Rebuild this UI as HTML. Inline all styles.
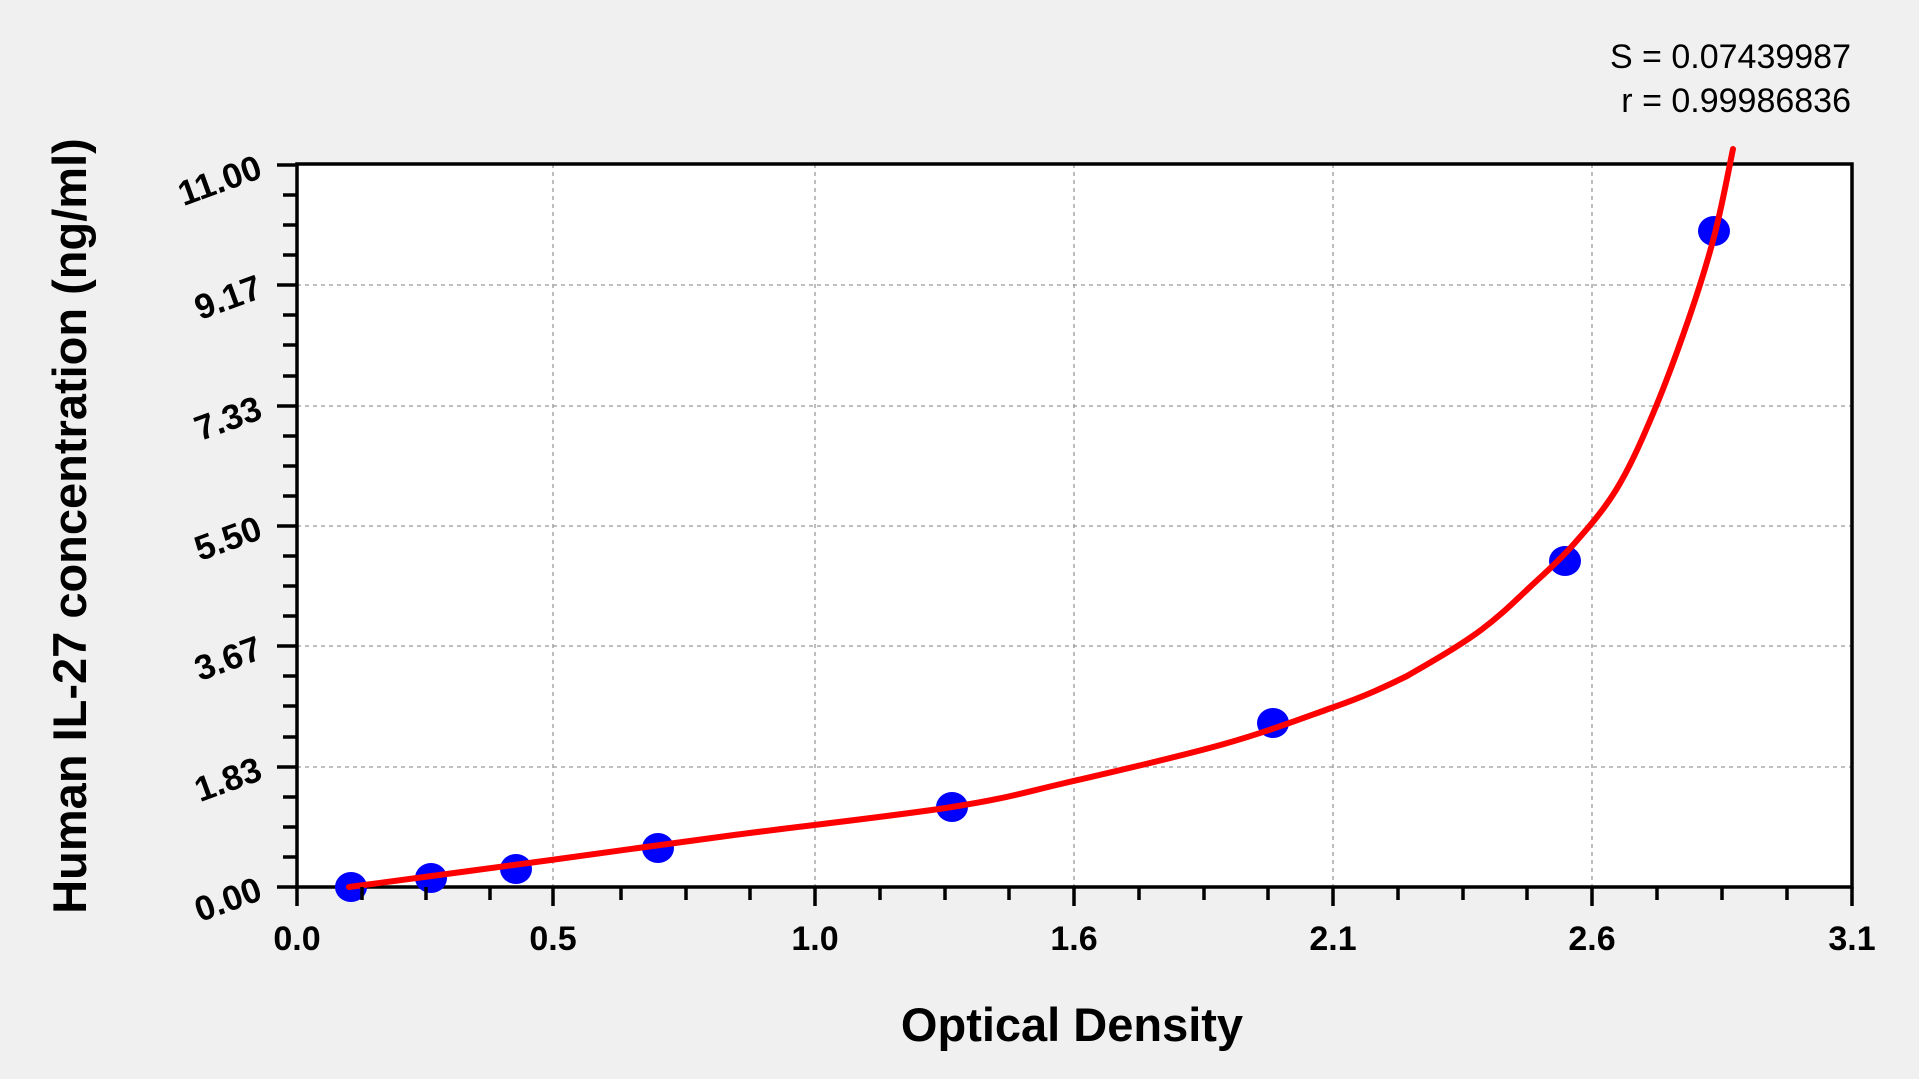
<!DOCTYPE html>
<html><head><meta charset="utf-8"><style>
html,body{margin:0;padding:0;background:#f0f0f0;}
svg{display:block;font-family:"Liberation Sans",Arial,sans-serif;}
</style></head><body>
<svg width="1919" height="1079" viewBox="0 0 1919 1079" xmlns="http://www.w3.org/2000/svg">
<rect width="1919" height="1079" fill="#f0f0f0"/>
<rect x="297" y="164" width="1555" height="723" fill="#fff"/>
<g stroke="#999" stroke-width="1.3" stroke-dasharray="4,4">
<line x1="553" y1="164" x2="553" y2="887"/>
<line x1="815" y1="164" x2="815" y2="887"/>
<line x1="1074" y1="164" x2="1074" y2="887"/>
<line x1="1333" y1="164" x2="1333" y2="887"/>
<line x1="1592" y1="164" x2="1592" y2="887"/>
<line x1="297" y1="285" x2="1852" y2="285"/>
<line x1="297" y1="406" x2="1852" y2="406"/>
<line x1="297" y1="526" x2="1852" y2="526"/>
<line x1="297" y1="646" x2="1852" y2="646"/>
<line x1="297" y1="767" x2="1852" y2="767"/>
</g>
<rect x="297" y="164" width="1555" height="723" fill="none" stroke="#000" stroke-width="3.5"/>
<g fill="#0000ff">
<ellipse cx="351" cy="887" rx="16" ry="15"/>
<ellipse cx="431" cy="878" rx="16" ry="15"/>
<ellipse cx="516" cy="869" rx="16" ry="15"/>
<ellipse cx="658" cy="848" rx="16" ry="15"/>
<ellipse cx="952" cy="807" rx="16" ry="15"/>
<ellipse cx="1273" cy="723" rx="16" ry="15"/>
<ellipse cx="1565" cy="561" rx="16" ry="15"/>
<ellipse cx="1714" cy="231" rx="16" ry="15"/>
</g>
<path fill="none" stroke="#ff0000" stroke-width="6" stroke-linecap="round"
d="M349,887 C383,882.5 486.8,868.7 551,860 C615.2,851.3 667.2,843.8 734,835 C800.8,826.2 896.8,815.7 952,807 C1007.2,798.3 1019.7,793.5 1065,783 C1110.3,772.5 1179.2,756.7 1224,744 C1268.8,731.3 1303.5,717.8 1334,707 C1364.5,696.2 1382.5,688 1407,676 C1431.5,662 1460.5,645.3 1481,630 C1501.5,614.7 1514.7,601.2 1530,587 C1545.3,572.8 1558.7,561.2 1573,545 C1587.3,528.8 1602.8,511.5 1616,490 C1629.2,468.5 1639.8,444.7 1652,416 C1664.2,387.3 1678.5,348.5 1689,318 C1699.5,287.5 1707.7,261.2 1715,233 C1722.3,204.8 1730,163 1733,149"/>
<g font-weight="bold" font-size="35" text-anchor="end" fill="#000">
<text x="264" y="899" transform="rotate(-20 264 899)">0.00</text>
<text x="264" y="779" transform="rotate(-20 264 779)">1.83</text>
<text x="264" y="658" transform="rotate(-20 264 658)">3.67</text>
<text x="264" y="538" transform="rotate(-20 264 538)">5.50</text>
<text x="264" y="418" transform="rotate(-20 264 418)">7.33</text>
<text x="264" y="297" transform="rotate(-20 264 297)">9.17</text>
<text x="264" y="177" transform="rotate(-20 264 177)">11.00</text>
</g>
<g font-weight="bold" font-size="34" text-anchor="middle" fill="#000">
<text x="297" y="950">0.0</text>
<text x="553" y="950">0.5</text>
<text x="815" y="950">1.0</text>
<text x="1074" y="950">1.6</text>
<text x="1333" y="950">2.1</text>
<text x="1592" y="950">2.6</text>
<text x="1852" y="950">3.1</text>
</g>
<text x="1072" y="1041" font-weight="bold" font-size="47" text-anchor="middle">Optical Density</text>
<text transform="translate(86 526) rotate(-90)" font-weight="bold" font-size="47" text-anchor="middle">Human IL-27 concentration (ng/ml)</text>
<g font-size="34" text-anchor="end">
<text x="1851" y="68">S = 0.07439987</text>
<text x="1851" y="112">r = 0.99986836</text>
</g>
<g stroke="#000" stroke-width="3.5">
<line x1="277" y1="887" x2="297" y2="887"/><line x1="277" y1="767" x2="297" y2="767"/><line x1="277" y1="646" x2="297" y2="646"/><line x1="277" y1="526" x2="297" y2="526"/><line x1="277" y1="406" x2="297" y2="406"/><line x1="277" y1="285" x2="297" y2="285"/><line x1="277" y1="165" x2="297" y2="165"/>
<line x1="283" y1="857" x2="297" y2="857"/><line x1="283" y1="827" x2="297" y2="827"/><line x1="283" y1="797" x2="297" y2="797"/>
<line x1="283" y1="737" x2="297" y2="737"/><line x1="283" y1="706" x2="297" y2="706"/><line x1="283" y1="676" x2="297" y2="676"/>
<line x1="283" y1="616" x2="297" y2="616"/><line x1="283" y1="586" x2="297" y2="586"/><line x1="283" y1="556" x2="297" y2="556"/>
<line x1="283" y1="496" x2="297" y2="496"/><line x1="283" y1="466" x2="297" y2="466"/><line x1="283" y1="436" x2="297" y2="436"/>
<line x1="283" y1="376" x2="297" y2="376"/><line x1="283" y1="345" x2="297" y2="345"/><line x1="283" y1="315" x2="297" y2="315"/>
<line x1="283" y1="255" x2="297" y2="255"/><line x1="283" y1="225" x2="297" y2="225"/><line x1="283" y1="195" x2="297" y2="195"/>
<line x1="297" y1="887" x2="297" y2="906"/><line x1="553" y1="887" x2="553" y2="906"/><line x1="815" y1="887" x2="815" y2="906"/><line x1="1074" y1="887" x2="1074" y2="906"/><line x1="1333" y1="887" x2="1333" y2="906"/><line x1="1592" y1="887" x2="1592" y2="906"/><line x1="1852" y1="887" x2="1852" y2="906"/>
<line x1="362" y1="887" x2="362" y2="900"/><line x1="426" y1="887" x2="426" y2="900"/><line x1="490" y1="887" x2="490" y2="900"/>
<line x1="621" y1="887" x2="621" y2="900"/><line x1="686" y1="887" x2="686" y2="900"/><line x1="750" y1="887" x2="750" y2="900"/>
<line x1="880" y1="887" x2="880" y2="900"/><line x1="945" y1="887" x2="945" y2="900"/><line x1="1009" y1="887" x2="1009" y2="900"/>
<line x1="1139" y1="887" x2="1139" y2="900"/><line x1="1204" y1="887" x2="1204" y2="900"/><line x1="1268" y1="887" x2="1268" y2="900"/>
<line x1="1398" y1="887" x2="1398" y2="900"/><line x1="1463" y1="887" x2="1463" y2="900"/><line x1="1527" y1="887" x2="1527" y2="900"/>
<line x1="1657" y1="887" x2="1657" y2="900"/><line x1="1722" y1="887" x2="1722" y2="900"/><line x1="1787" y1="887" x2="1787" y2="900"/>
</g>
</svg>
</body></html>
